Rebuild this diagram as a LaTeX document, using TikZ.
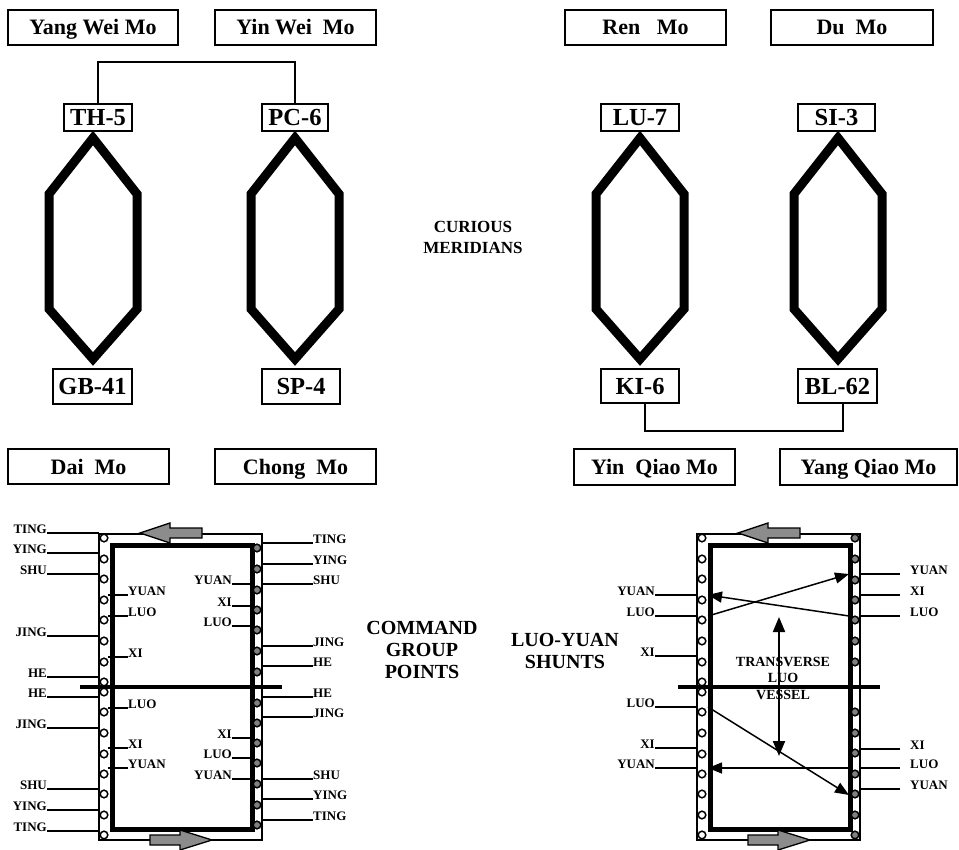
\documentclass[tikz,border=0pt]{standalone}
\usepackage{fontspec}
\setmainfont{Liberation Serif}
\usetikzlibrary{arrows.meta}

\begin{document}
\begin{tikzpicture}[x=1pt, y=-1pt,
  font=\bfseries,
  mo/.style={draw, line width=2pt, minimum height=35pt, inner sep=0pt,
    text height=15pt, text depth=0pt,
    font=\bfseries\fontsize{22}{24}\selectfont},
  acup/.style={draw, line width=2.5pt, inner sep=0pt,
    text height=16.5pt, text depth=0pt,
    font=\bfseries\fontsize{24.5}{26}\selectfont},
  link/.style={line width=2pt},
  hexline/.style={line width=9pt, line join=miter},
  rail/.style={line width=1.8pt},
  frame/.style={line width=5pt},
  divider/.style={line width=3.8pt},
  hole/.style={draw, fill=white, line width=1.5pt},
  pin/.style={draw, fill=black!50, line width=1.5pt},
  blockarrow/.style={draw, fill=black!45, line width=1.3pt, line join=miter},
  lbl/.style={inner sep=0pt, font=\bfseries\fontsize{13}{15}\selectfont},
  tick/.style={line width=1.5pt},
  shunt/.style={line width=1.5pt, -{Triangle[length=14pt, width=11pt]}},
  vessel/.style={line width=2pt, {Triangle[length=15pt, width=12pt]}-{Triangle[length=15pt, width=12pt]}},
  title/.style={align=center, inner sep=0pt}
]
\useasboundingbox (0,0) rectangle (959,850);

% extraordinary vessels and their opening points
\node[mo, minimum width=170pt] (yangwei) at (93,27.5) {Yang Wei Mo};
\node[mo, minimum width=161pt] (yinwei) at (295.5,27.5) {Yin Wei\ \ Mo};
\node[mo, minimum width=161pt] (ren) at (645.5,27.5) {Ren\ \ \ Mo};
\node[mo, minimum width=162pt] (du) at (852,27.5) {Du\ \ Mo};
\node[mo, minimum width=161pt] (dai) at (88.5,466.5) {Dai\ \ Mo};
\node[mo, minimum width=161pt] (chong) at (295.5,466.5) {Chong\ \ Mo};
\node[mo, minimum width=161pt, minimum height=36pt] (yinqiao) at (654.5,467) {Yin\ \ Qiao Mo};
\node[mo, minimum width=177pt, minimum height=36pt] (yangqiao) at (868.5,467) {Yang Qiao Mo};

\node[acup, minimum width=68pt, minimum height=27pt] (th5) at (98,117.5) {TH-5};
\node[acup, minimum width=66pt, minimum height=27pt] (pc6) at (295,117.5) {PC-6};
\node[acup, minimum width=78pt, minimum height=27pt] (lu7) at (640,117.5) {LU-7};
\node[acup, minimum width=77pt, minimum height=27pt] (si3) at (836.5,117.5) {SI-3};
\node[acup, minimum width=79pt, minimum height=35pt] (gb41) at (92.5,386.5) {GB-41};
\node[acup, minimum width=78pt, minimum height=35pt] (sp4) at (301,386.5) {SP-4};
\node[acup, minimum width=78pt, minimum height=34pt] (ki6) at (640,386) {KI-6};
\node[acup, minimum width=79pt, minimum height=34pt] (bl62) at (837.5,386) {BL-62};

\draw[link] (th5.north) -- ++(0,-41) -| (pc6.north);
\draw[link] ([xshift=5pt]ki6.south) -- ++(0,27) -| ([xshift=5pt]bl62.south);

\foreach \cx in {93,295,640,838}
  \draw[hexline] (\cx,138) -- ++(-44,56) -- ++(0,115) -- (\cx,359)
    -- ++(44,-50) -- ++(0,-115) -- cycle;

\node[title, font=\bfseries\fontsize{17}{21}\selectfont] (curious) at (473,237) {CURIOUS\\MERIDIANS};

% the two ladders
\foreach \dx in {0,598} {
  \begin{scope}[xshift=\dx pt]
    \draw[rail] (99,534) rectangle (262,840);
    \draw[frame] (112,545) rectangle (252,829);
    \draw[divider] (80,687) -- (282,687);
    \foreach \y in {538,559,579,600,620,641,662,682,692,712,733,754,774,794,815,835}
      \draw[hole] (104,\y) circle (3.8pt);
    \draw[blockarrow] (140,533) -- ++(30,-10) -- ++(0,5) -- ++(32,0) -- ++(0,10)
      -- ++(-32,0) -- ++(0,5) -- cycle;
    \draw[blockarrow] (212,840) -- ++(-32,-10) -- ++(0,5) -- ++(-30,0) -- ++(0,10)
      -- ++(30,0) -- ++(0,5) -- cycle;
  \end{scope}
}
\foreach \y in {548,569,590,610,630,651,672,703,723,743,763,784,805,825}
  \draw[pin] (257,\y) circle (3.8pt);
\foreach \y in {538,559,580,600,620,641,662,712,733,753,774,794,815,835}
  \draw[pin] (855,\y) circle (3.8pt);

\coordinate (cmdoutl) at (99,0);
\coordinate (cmdinl) at (108,0);
\coordinate (cmdinr) at (252,0);
\coordinate (cmdoutr) at (262,0);
\coordinate (shuntl) at (697,0);
\coordinate (shuntr) at (860,0);
\coordinate (shuntinl) at (708,0);
\coordinate (shuntinr) at (849,0);

% command group points
\foreach \t/\y [count=\i] in {TING/533, YING/553, SHU/574, JING/636, HE/677,
    HE/697, JING/728, SHU/789, YING/810, TING/831} {
  \node[lbl, anchor=base east] (cl\i) at (47,\y) {\t};
  \draw[tick] (cl\i.base east) -- (cl\i.base east -| cmdoutl);
}
\foreach \t/\y [count=\i] in {YUAN/595, LUO/616, XI/657, LUO/708, XI/748, YUAN/768} {
  \node[lbl, anchor=base west] (il\i) at (128,\y) {\t};
  \draw[tick] (il\i.base west) -- (il\i.base west -| cmdinl);
}
\foreach \t/\y [count=\i] in {YUAN/584, XI/606, LUO/626, XI/738, LUO/758, YUAN/779} {
  \node[lbl, anchor=base east] (ir\i) at (232,\y) {\t};
  \draw[tick] (ir\i.base east) -- (ir\i.base east -| cmdinr);
}
\foreach \t/\y [count=\i] in {TING/543, YING/564, SHU/584, JING/646, HE/666,
    HE/697, JING/717, SHU/779, YING/799, TING/820} {
  \node[lbl, anchor=base west] (cr\i) at (313,\y) {\t};
  \draw[tick] (cr\i.base west) -- (cr\i.base west -| cmdoutr);
}
\node[title, font=\bfseries\fontsize{20}{22}\selectfont] (command) at (422,650) {COMMAND\\GROUP\\POINTS};

% luo-yuan shunts
\foreach \t/\y [count=\i] in {YUAN/595, LUO/616, XI/656, LUO/707, XI/748, YUAN/768} {
  \node[lbl, anchor=base east] (sl\i) at (655,\y) {\t};
  \draw[tick] (sl\i.base east) -- (sl\i.base east -| shuntl);
}
\foreach \t/\y [count=\i] in {YUAN/574, XI/595, LUO/616, XI/749, LUO/768, YUAN/789} {
  \node[lbl, anchor=base west, inner xsep=10pt] (sr\i) at (900,\y) {\t};
  \draw[tick] (sr\i.base west) -- (sr\i.base west -| shuntr);
}
\node[title, font=\bfseries\fontsize{20}{22}\selectfont] (shunts) at (565,651) {LUO-YUAN\\SHUNTS};

\coordinate (yuanend) at (849,795);
\coordinate (vtop) at (779,617);
\coordinate (vbot) at (779,756);
\draw[shunt] (sl2.base east -| shuntinl) -- (sr1.base west -| shuntinr);
\draw[shunt] (sr3.base west -| shuntinr) -- (sl1.base east -| shuntinl);
\draw[shunt] (sl4.base east -| shuntinl) -- (yuanend);
\draw[shunt] (sr5.base west -| shuntinr) -- (sl6.base east -| shuntinl);
\draw[vessel] (vtop) -- (vbot);
\node[title, font=\bfseries\fontsize{14}{16.5}\selectfont] (transverse) at (783,678) {TRANSVERSE\\LUO\\VESSEL};
\end{tikzpicture}
\end{document}
